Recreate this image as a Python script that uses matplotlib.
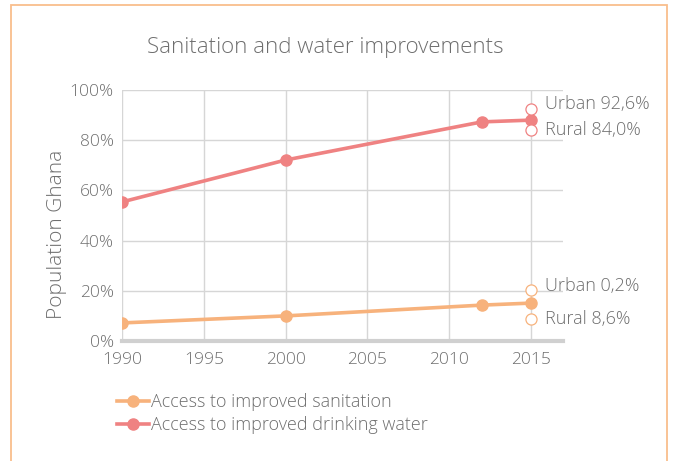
import matplotlib
matplotlib.use("Agg")
import matplotlib.pyplot as plt
from matplotlib.lines import Line2D
from matplotlib.patches import Rectangle

plt.rcParams['font.family'] = ['Open Sans', 'DejaVu Sans']

years = [1990, 2000, 2012, 2015]
sanitation = [7.2, 10.0, 14.3, 15.1]
water = [55.4, 72.1, 87.3, 88.0]
water_urban, water_rural = 92.6, 84.0
san_urban_pos, san_rural_pos = 20.3, 8.6
water_labels = ["Urban 92,6%", "Rural 84,0%"]
san_labels = ["Urban 0,2%", "Rural 8,6%"]
xticks = [1990, 1995, 2000, 2005, 2010, 2015]
yticks = [0, 20, 40, 60, 80, 100]

c_water = '#EF8282'
c_san = '#F7B27C'
c_text = '#6E6E6E'
c_grid = '#D6D6D6'
FW = 'light'

fig = plt.figure(figsize=(6.75, 4.61), dpi=100)
ax = fig.add_axes([122/675, 1-341/461, (563-122)/675, (341-90)/461])

fig.patches.append(Rectangle((11/675, -0.2), (667-11)/675, 1.2 - 5/461,
                             transform=fig.transFigure, fill=False,
                             edgecolor='#F9BE8C', linewidth=1.3))

ax.plot(years, sanitation, color=c_san, lw=2.6, marker='o', ms=8, zorder=3)
ax.plot(years, water, color=c_water, lw=2.6, marker='o', ms=8, zorder=3)

offsets = [1.8, 0.0]
for v, lab, off in zip([water_urban, water_rural], water_labels, offsets):
    ax.plot([2015], [v], marker='o', ms=8, mfc='white', mec=c_water, mew=0.9, zorder=4, clip_on=False)
    ax.text(2015.85, v + off, lab, color=c_text, fontsize=13, va='center', ha='left', fontweight=FW)
for v, lab, off in zip([san_urban_pos, san_rural_pos], san_labels, offsets):
    ax.plot([2015], [v], marker='o', ms=8, mfc='white', mec=c_san, mew=0.9, zorder=4, clip_on=False)
    ax.text(2015.85, v + off, lab, color=c_text, fontsize=13, va='center', ha='left', fontweight=FW)

ax.set_xlim(1990, 1990 + (563-122)/81.8*5)
ax.set_ylim(0, 100)
ax.set_xticks(xticks)
ax.set_yticks(yticks)
ax.set_yticklabels([f"{t}%" for t in yticks])
ax.grid(True, color=c_grid, lw=1)
ax.set_axisbelow(True)
for s in ['top', 'right', 'left']:
    ax.spines[s].set_visible(False)
ax.spines['bottom'].set_color('#D0D0D0')
ax.spines['bottom'].set_linewidth(3)
ax.tick_params(length=0, colors=c_text, labelsize=12.5)
ax.tick_params(axis='x', pad=8)
ax.tick_params(axis='y', pad=6)
for lbl in ax.get_xticklabels() + ax.get_yticklabels():
    lbl.set_fontweight(FW)
ax.set_ylabel("Population Ghana", color=c_text, fontsize=15, fontweight=FW)
ax.yaxis.set_label_coords((67-122)/441, (341-234)/251)

fig.text(325/675, 1-47/461, "Sanitation and water improvements", ha='center', va='center',
         color=c_text, fontsize=16, fontweight=FW)

handles = [Line2D([], [], color=c_san, lw=2.6, marker='o', ms=8),
           Line2D([], [], color=c_water, lw=2.6, marker='o', ms=8)]
fig.legend(handles, ["Access to improved sanitation", "Access to improved drinking water"],
           loc='upper left', bbox_to_anchor=(117/675, 1-393/461), frameon=False,
           labelcolor=c_text, handlelength=1.75, handletextpad=0.12,
           labelspacing=0.3, borderaxespad=0, borderpad=0,
           prop={'weight': FW, 'size': 13})

fig.savefig("out.png", dpi=100)
